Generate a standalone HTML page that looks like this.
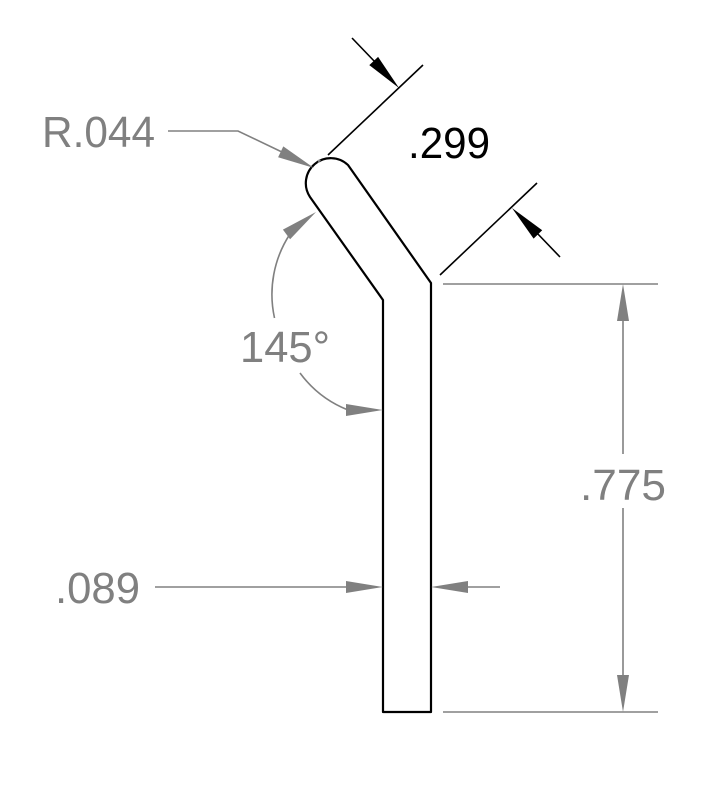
<!DOCTYPE html>
<html><head><meta charset="utf-8"><style>html,body{margin:0;padding:0;background:#fff}svg{display:block}</style></head>
<body>
<svg width="716" height="802" viewBox="0 0 716 802" xmlns="http://www.w3.org/2000/svg" font-family="Liberation Sans, sans-serif">
<rect width="716" height="802" fill="#fff"/>
<!-- part outline -->
<path d="M383,712 L383,300 L310,197 A25,25 0 0 1 348,165 L431,283 L431,712 Z" fill="none" stroke="#000" stroke-width="2.2" stroke-linejoin="round"/>
<!-- .299 dim (black) -->
<g stroke="#000" stroke-width="1.6" fill="none">
<line x1="328" y1="155" x2="423" y2="65"/>
<line x1="440" y1="275" x2="537" y2="183"/>
<line x1="352" y1="38" x2="376" y2="63"/>
<line x1="560" y1="257" x2="536" y2="232"/>
</g>
<polygon points="399,88 369.3,65.1 378.1,56.9" fill="#000"/>
<polygon points="512,208 542.2,230.2 533.6,238.6" fill="#000"/>
<text x="408" y="158" font-size="44" fill="#000" textLength="82" lengthAdjust="spacingAndGlyphs">.299</text>
<!-- gray dims -->
<g stroke="#808080" stroke-width="1.6" fill="none">
<line x1="443" y1="284" x2="658" y2="284"/>
<line x1="443" y1="712" x2="658" y2="712"/>
<line x1="623" y1="300" x2="623" y2="454"/>
<line x1="623" y1="508" x2="623" y2="700"/>
<line x1="155" y1="587" x2="350" y2="587"/>
<line x1="466" y1="587" x2="500" y2="587"/>
<polyline points="168,131 238,131 284,153"/>
<path d="M290,234 A110,110 0 0 0 274.5,318"/>
<path d="M300,373 A110,110 0 0 0 348,410"/>
</g>
<g fill="#808080">
<polygon points="623,284 617,321 629,321"/>
<polygon points="623,712 617,675 629,675"/>
<polygon points="383,587 346,581 346,593"/>
<polygon points="431,587 468,581 468,593"/>
<polygon points="314,168 278.1,157.2 283.3,146.4"/>
<polygon points="316,212 282.9,229.6 290.1,239.2"/>
<polygon points="383,410 346,404 346,416"/>
</g>
<text x="317" y="166" font-size="10" fill="#b0b0b0">*</text>
<g fill="#808080" font-size="44">
<text x="42" y="147" textLength="113" lengthAdjust="spacingAndGlyphs">R.044</text>
<text x="240" y="362" textLength="90" lengthAdjust="spacingAndGlyphs">145°</text>
<text x="580" y="500" textLength="86" lengthAdjust="spacingAndGlyphs">.775</text>
<text x="55" y="603" textLength="85" lengthAdjust="spacingAndGlyphs">.089</text>
</g>
</svg>
</body></html>
